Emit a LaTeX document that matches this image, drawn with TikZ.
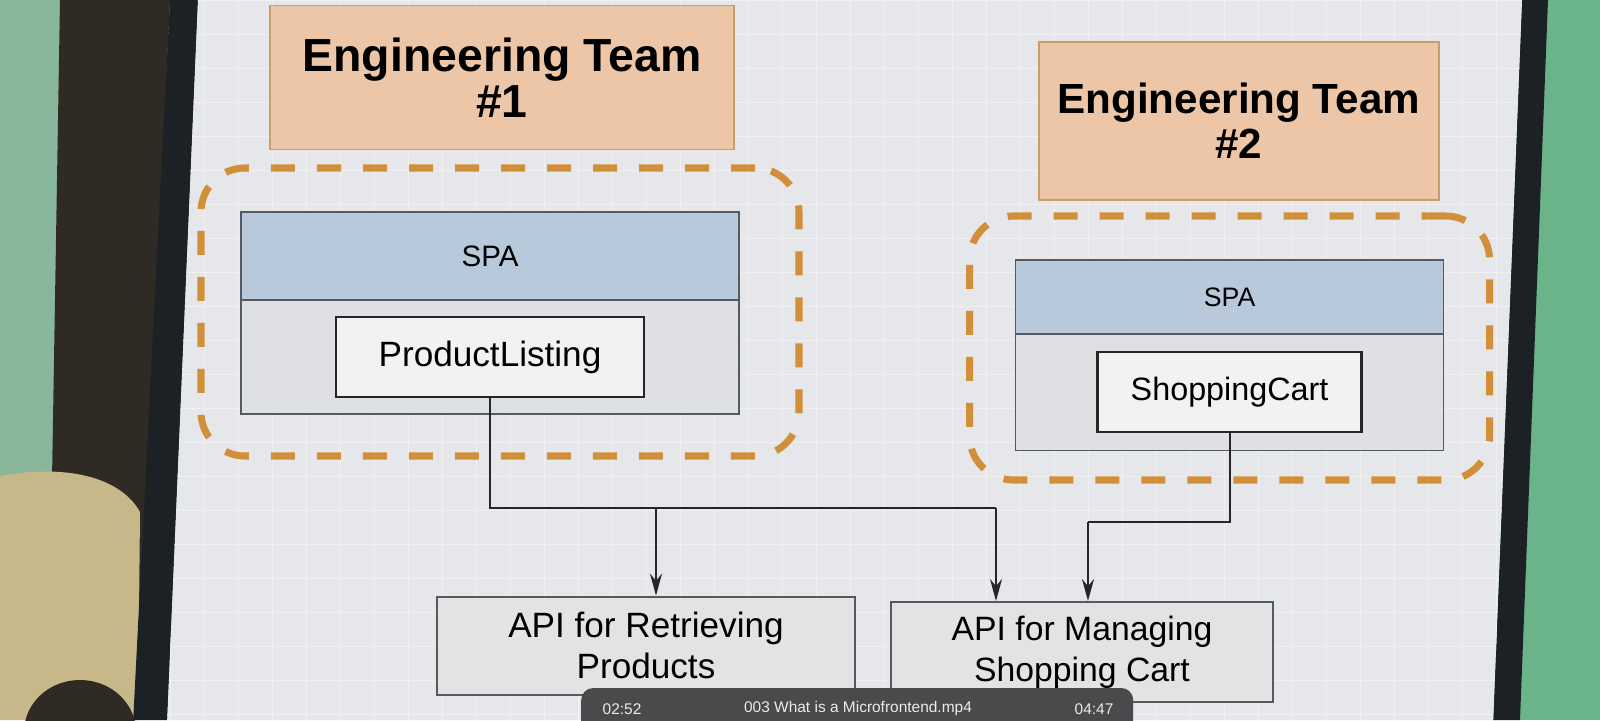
\documentclass[tikz,border=0pt]{standalone}
\usepackage{fontspec}
\setmainfont{Liberation Sans}
\usepackage{xcolor}
\usetikzlibrary{arrows.meta,positioning}
\definecolor{wallL}{HTML}{88B79B}
\definecolor{wallR}{HTML}{6BB489}
\definecolor{darkwall}{HTML}{2F2B24}
\definecolor{bezel}{HTML}{1B2124}
\definecolor{screen}{HTML}{E6E7EA}
\definecolor{chair}{HTML}{C6B888}
\definecolor{teamfill}{HTML}{EDC6A7}
\definecolor{teamline}{HTML}{C79D6B}
\definecolor{spahead}{HTML}{B8C9DB}
\definecolor{spabody}{HTML}{DEE0E4}
\definecolor{boxline}{HTML}{545A60}
\definecolor{apifill}{HTML}{E3E3E4}
\definecolor{zoneline}{HTML}{D28F3A}
\definecolor{barfill}{HTML}{4A4A4D}

\begin{document}
\begin{tikzpicture}[
    team/.style={draw=teamline,fill=teamfill,line width=1.2pt,align=center,outer sep=0pt},
    zone/.style={draw=zoneline,line width=5pt,rounded corners=1.1cm,dash pattern=on 0.6cm off 0.55cm},
    head/.style={draw=boxline,fill=spahead,line width=1.2pt,outer sep=0pt},
    body/.style={draw=boxline,fill=spabody,line width=1.2pt,outer sep=0pt},
    comp/.style={draw=black!85,fill=black!5,line width=1.6pt},
    api/.style={draw=boxline,fill=apifill,line width=1.4pt,align=center},
    wire/.style={draw=black!85,line width=1.5pt},
    tip/.style={-{Stealth[length=5.5mm,width=3mm]}}
  ]
  \useasboundingbox (0,0) rectangle (40,-18);
  \fill[wallL] (0,0) rectangle (20,-18);
  \fill[wallR] (20,0) rectangle (40,-18);
  \fill[darkwall] (1.5,0) -- (4.25,0) -- (3.4,-18) -- (1.2,-18) -- cycle;
  \fill[chair] (0,-11.9) .. controls (1.6,-11.6) and (3.0,-11.9) .. (3.5,-12.8) -- (3.45,-18) -- (0,-18) -- cycle;
  \fill[darkwall] (2.0,-18.3) ellipse (1.4 and 1.3);
  \fill[bezel] (4.25,0) -- (4.95,0) -- (4.18,-18) -- (3.33,-18) -- cycle;
  \fill[bezel] (38.05,0) -- (38.7,0) -- (38.0,-18) -- (37.33,-18) -- cycle;
  \fill[screen] (4.95,0) -- (38.05,0) -- (37.33,-18) -- (4.18,-18) -- cycle;
  \begin{scope}
    \clip (4.95,0) -- (38.05,0) -- (37.33,-18) -- (4.18,-18) -- cycle;
    \draw[black!6,line width=0.6pt,step=0.85cm] (4,-18) grid (39,0);
  \end{scope}

  \node[zone,minimum width=14.95cm,minimum height=7.2cm] (zone1) at (12.5,-7.8) {};
  \node[zone,minimum width=13.0cm,minimum height=6.6cm] (zone2) at (30.74,-8.7) {};

  \node[team,minimum width=11.6cm,minimum height=3.6cm,font=\fontsize{33}{33}\selectfont\bfseries] (team1) at (12.55,-1.94) {Engineering Team\\\#1};
  \node[team,minimum width=10cm,minimum height=3.95cm,font=\fontsize{30}{32}\selectfont\bfseries] (team2) at (30.97,-3.03) {Engineering Team\\\#2};

  \node[head,minimum width=12.45cm,minimum height=2.2cm,font=\fontsize{21}{25}\selectfont] (spahead1) at (12.25,-6.4) {SPA};
  \node[body,minimum width=12.45cm,minimum height=2.85cm,below=0pt of spahead1] (spabody1) {};
  \node[comp,minimum width=7.7cm,minimum height=2cm,font=\fontsize{25}{30}\selectfont] (plist) at (spabody1) {ProductListing};

  \node[head,minimum width=10.7cm,minimum height=1.85cm,font=\fontsize{19}{23}\selectfont] (spahead2) at (30.74,-7.42) {SPA};
  \node[body,minimum width=10.7cm,minimum height=2.92cm,below=0pt of spahead2] (spabody2) {};
  \node[comp,minimum width=6.6cm,minimum height=2cm,font=\fontsize{23}{28}\selectfont] (scart) at (spabody2) {ShoppingCart};

  \node[api,minimum width=10.45cm,minimum height=2.45cm,font=\fontsize{25}{29}\selectfont] (api1) at (16.15,-16.14) {API for Retrieving\\Products};
  \node[api,minimum width=9.55cm,minimum height=2.5cm,font=\fontsize{24}{29}\selectfont] (api2) at (27.05,-16.3) {API for Managing\\Shopping Cart};

  \coordinate (bus1) at (24.9,-12.7);
  \coordinate (tap1) at (16.4,-12.7);
  \coordinate (bus2) at (27.2,-13.05);
  \draw[wire] (plist.south) |- (bus1);
  \draw[wire,tip] (bus1) -- (bus1 |- api2.north);
  \draw[wire,tip] (tap1) -- (tap1 |- api1.north);
  \draw[wire] (scart.south) |- (bus2);
  \draw[wire,tip] (bus2) -- (bus2 |- api2.north);

  \node[fill=barfill,rounded corners=0.3cm,minimum width=13.8cm,minimum height=1.6cm] (bar) at (21.43,-18.0) {};
  \node[text=black!8,font=\fontsize{11}{13}\selectfont] (start) at (15.55,-17.72) {02:52};
  \node[text=black!8,font=\fontsize{11}{13}\selectfont] (title) at (21.45,-17.72) {003 What is a Microfrontend.mp4};
  \node[text=black!8,font=\fontsize{11}{13}\selectfont] (stop) at (27.35,-17.72) {04:47};
\end{tikzpicture}
\end{document}
